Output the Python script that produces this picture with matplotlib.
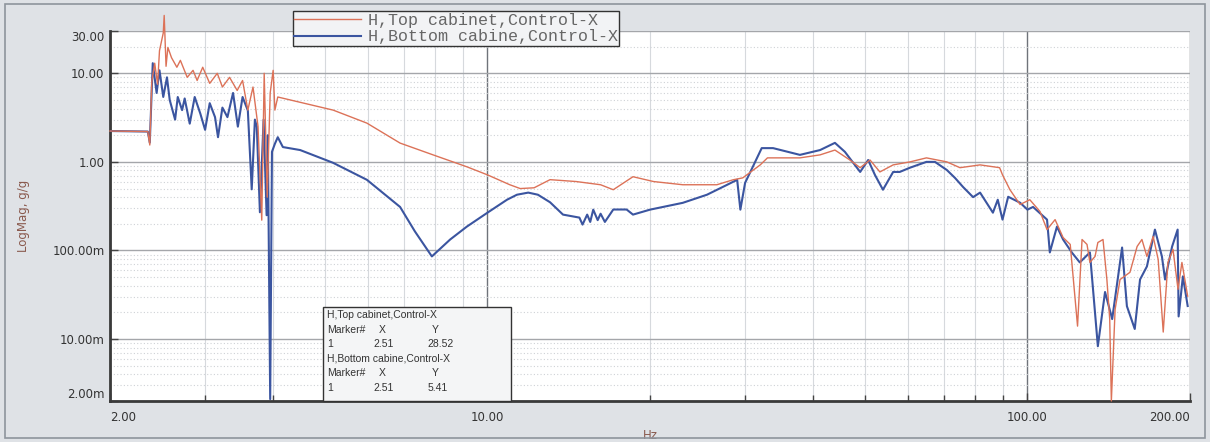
import matplotlib.pyplot as plt
import matplotlib.patches as patches
from matplotlib.ticker import FixedLocator, LogLocator, NullFormatter

# bottom cabinet (blue)
bottom_f = [2.0, 2.35, 2.37, 2.40, 2.44, 2.47, 2.51, 2.55, 2.58, 2.64, 2.67, 2.72, 2.75, 2.81,
            2.87, 2.94, 3.00, 3.06, 3.13, 3.17, 3.23, 3.30, 3.38, 3.45, 3.52, 3.60, 3.66, 3.71,
            3.74, 3.79, 3.85, 3.90, 3.92, 3.96, 3.99, 4.04, 4.09, 4.18, 4.50, 5.18, 5.98, 6.89,
            7.34, 7.89, 8.53, 9.16, 10.0, 10.87, 11.34, 11.9, 12.4, 13.06, 13.8, 14.8, 15.0,
            15.3, 15.5, 15.7, 16.0, 16.2, 16.5, 17.1, 18.1, 18.6, 20.0, 23.0, 25.5, 27.8, 29.0,
            29.4, 30.0, 31.0, 32.2, 33.8, 37.9, 41.3, 44.0, 45.9, 49.0, 50.7, 52.2, 54.0, 56.4,
            58.0, 60.6, 65.0, 67.4, 70.9, 73.4, 76.0, 79.3, 81.7, 86.3, 88.1, 89.9, 92.1, 96.9,
            100.0, 102.4, 108.7, 110.0, 113.4, 116.4, 120.8, 125.0, 130.5, 135.0, 139.2, 143.5,
            149.7, 152.8, 158.0, 161.6, 166.4, 172.2, 177.4, 179.8, 185.3, 189.7, 190.5, 194.0,
            198.0]
bottom_mag = [2.23, 2.2, 1.65, 13, 6, 10.8, 5.41, 9, 5, 3, 5.4, 3.84, 5.2, 2.7,
              5.4, 3.5, 2.3, 4.6, 3.2, 1.9, 4.1, 3.2, 6.0, 2.5, 5.4, 3.8, 0.49, 3.0,
              2.5, 0.27, 3.0, 0.25, 2.0, 0.0021, 1.3, 1.6, 1.9, 1.47, 1.36, 0.975, 0.628, 0.31,
              0.164, 0.0857, 0.133, 0.186, 0.267, 0.374, 0.426, 0.45, 0.426, 0.35, 0.254, 0.235, 0.196,
              0.254, 0.21, 0.289, 0.22, 0.26, 0.21, 0.29, 0.29, 0.254, 0.289, 0.345, 0.426, 0.552, 0.628,
              0.289, 0.58, 0.88, 1.43, 1.43, 1.2, 1.36, 1.64, 1.3, 0.77, 1.05, 0.71, 0.485, 0.77,
              0.77, 0.86, 1.0, 1.0, 0.81, 0.66, 0.52, 0.40, 0.45, 0.267, 0.374, 0.223, 0.404, 0.346,
              0.289, 0.31, 0.223, 0.095, 0.186, 0.133, 0.095, 0.0733, 0.095, 0.0083, 0.034, 0.0168,
              0.108, 0.0235, 0.013, 0.047, 0.066, 0.172, 0.0857, 0.047, 0.111, 0.172, 0.018, 0.051,
              0.0236]

# top cabinet (red)
top_f = [2.0, 2.35, 2.37, 2.39, 2.42, 2.45, 2.47, 2.51, 2.52, 2.54, 2.56, 2.60, 2.66, 2.70,
         2.78, 2.85, 2.90, 2.97, 3.06, 3.16, 3.23, 3.33, 3.44, 3.52, 3.60, 3.68, 3.76, 3.82,
         3.86, 3.91, 3.96, 4.01, 4.04, 4.09, 5.18, 5.98, 6.89, 7.93, 9.16, 10.0, 11.0, 11.5,
         12.2, 13.06, 14.6, 16.2, 17.1, 18.6, 20.3, 23.0, 26.6, 28.5, 29.7, 32.0, 33.0, 35.3,
         37.9, 41.3, 44.0, 46.9, 49.0, 51.1, 53.3, 56.4, 60.6, 65.0, 70.9, 75.0, 81.7, 88.8,
         89.9, 92.8, 96.9, 101.0, 105.5, 108.7, 112.5, 116.4, 120.0, 123.8, 126.2, 128.9, 130.5,
         133.4, 135.0, 138.0, 140.3, 142.0, 143.0, 145.3, 148.4, 154.8, 159.6, 162.9, 166.4,
         170.9, 174.6, 178.4, 182.0, 186.0, 190.0, 193.2, 198.0]
top_mag = [2.23, 2.2, 1.55, 8, 13, 7.5, 18, 28.52, 45, 12, 19.6, 15, 11.7, 14,
           9, 10.8, 8.3, 11.7, 7.7, 10, 7, 9, 6.4, 8.3, 3.84, 7, 2.5, 0.22,
           10, 0.40, 6, 10.8, 3.84, 5.4, 3.84, 2.74, 1.63, 1.2, 0.88, 0.714, 0.552, 0.5,
           0.51, 0.63, 0.6, 0.552, 0.485, 0.68, 0.6, 0.552, 0.552, 0.628, 0.66, 0.925, 1.11, 1.11,
           1.11, 1.2, 1.36, 1.05, 0.86, 1.05, 0.77, 0.925, 1.0, 1.11, 1.0, 0.86, 0.925, 0.86,
           0.714, 0.485, 0.33, 0.374, 0.275, 0.172, 0.223, 0.14, 0.117, 0.014, 0.133, 0.117, 0.0733,
           0.0857, 0.123, 0.133, 0.047, 0.0168, 0.002, 0.0216, 0.047, 0.0567, 0.111, 0.133, 0.0857,
           0.144, 0.0792, 0.012, 0.0733, 0.103, 0.0364, 0.0733, 0.0305]

x_ticks = [2, 10, 100, 200]
x_labels = ["2.00", "10.00", "100.00", "200.00"]
y_ticks = [0.002, 0.01, 0.1, 1, 10, 30]
y_labels = ["2.00m", "10.00m", "100.00m", "1.00", "10.00", "30.00"]

marker_x = 2.51
marker_top = 28.52
marker_bottom = 5.41

fig = plt.figure(figsize=(12.1, 4.42), dpi=100, facecolor="#dfe2e6")
fig.patches.append(patches.Rectangle((0.004, 0.008), 0.992, 0.984, transform=fig.transFigure,
                                     fill=False, edgecolor="#8e949c", linewidth=1.2))
ax = fig.add_axes([0.0909, 0.0928, 0.8926, 0.837])
ax.set_facecolor("white")

ax.plot(bottom_f, bottom_mag, color="#3b55a0", linewidth=1.5, label="H,Bottom cabine,Control-X", zorder=3)
ax.plot(top_f, top_mag, color="#dc7258", linewidth=1.0, label="H,Top cabinet,Control-X", zorder=4,
        clip_on=False)

ax.set_xscale("log")
ax.set_yscale("log")
ax.set_xlim(2, 200)
ax.set_ylim(0.002, 30)

ax.xaxis.set_major_locator(FixedLocator(x_ticks))
ax.set_xticklabels(x_labels)
ax.xaxis.set_minor_locator(LogLocator(base=10, subs=range(2, 10), numticks=20))
ax.xaxis.set_minor_formatter(NullFormatter())
ax.yaxis.set_major_locator(FixedLocator(y_ticks))
ax.set_yticklabels(y_labels)
ax.yaxis.set_minor_locator(LogLocator(base=10, subs=range(2, 10), numticks=20))
ax.yaxis.set_minor_formatter(NullFormatter())

for lab in ax.get_xticklabels():
    if lab.get_text() == "2.00":
        lab.set_ha("left")
    elif lab.get_text() == "200.00":
        lab.set_ha("right")
for lab in ax.get_yticklabels():
    if lab.get_text() == "30.00":
        lab.set_va("top")
    elif lab.get_text() == "2.00m":
        lab.set_va("bottom")

ax.tick_params(axis="both", which="major", direction="in", length=6, width=1, colors="#444444",
               labelsize=8.5, labelcolor="#333333")
ax.tick_params(axis="x", which="minor", direction="in", length=4, width=1, color="#444444")
ax.tick_params(axis="y", which="minor", length=0)
ax.tick_params(axis="x", pad=7)
ax.tick_params(axis="y", pad=4)

ax.grid(True, axis="y", which="major", color="#a4a6aa", linewidth=1.0, linestyle="-")
ax.grid(True, axis="x", which="major", color="#6f737a", linewidth=1.0, linestyle="-")
ax.grid(True, axis="y", which="minor", color="#cfd2d6", linewidth=0.8, linestyle=(0, (1, 2)))
ax.grid(True, axis="x", which="minor", color="#d6d9dd", linewidth=0.8)
ax.set_axisbelow(True)

for side in ["top", "right"]:
    ax.spines[side].set_visible(False)
ax.spines["left"].set_linewidth(2)
ax.spines["bottom"].set_linewidth(2)
ax.spines["left"].set_color("#3a3a3a")
ax.spines["bottom"].set_color("#3a3a3a")

ax.set_xlabel("Hz", color="#8a5a4e", fontsize=8.5, labelpad=4)
ax.set_ylabel("LogMag, g/g", color="#8a5a4e", fontsize=8.5, labelpad=16)

h, l = ax.get_legend_handles_labels()
leg = ax.legend(h[::-1], l[::-1], loc="upper left", bbox_to_anchor=(0.242, 0.975),
                bbox_transform=fig.transFigure, prop={"family": "Liberation Mono", "size": 12},
                frameon=True, fancybox=False, edgecolor="#333333", facecolor="#f2f3f5",
                framealpha=1, handlelength=4.0, handletextpad=0.4, borderpad=0.1,
                labelspacing=0.1, borderaxespad=0)
leg.get_frame().set_linewidth(1.0)
for t in leg.get_texts():
    t.set_color("#666666")

# marker readout box
box = patches.Rectangle((0.267, 0.093), 0.155, 0.212, transform=fig.transFigure,
                        facecolor="#f4f5f6", edgecolor="#333333", linewidth=1.0, zorder=10)
fig.patches.append(box)
rows = [
    ["H,Top cabinet,Control-X"],
    ["Marker#", "X", "Y"],
    ["1", f"{marker_x:.2f}", f"{marker_top:.2f}"],
    ["H,Bottom cabine,Control-X"],
    ["Marker#", "X", "Y"],
    ["1", f"{marker_x:.2f}", f"{marker_bottom:.2f}"],
]
col_x = [0.2705, 0.309, 0.353]
for i, row in enumerate(rows):
    y = 0.287 - i * 0.0328
    for j, txt in enumerate(row):
        x = col_x[j]
        if len(row) == 3 and j > 0:
            x = col_x[j] + (0.0 if row[0] == "1" else 0.004)
        fig.text(x, y, txt, fontsize=7.5, color="#333333", family="Liberation Sans",
                 va="center", ha="left", zorder=11)

fig.savefig("out.png", dpi=100, facecolor=fig.get_facecolor())
